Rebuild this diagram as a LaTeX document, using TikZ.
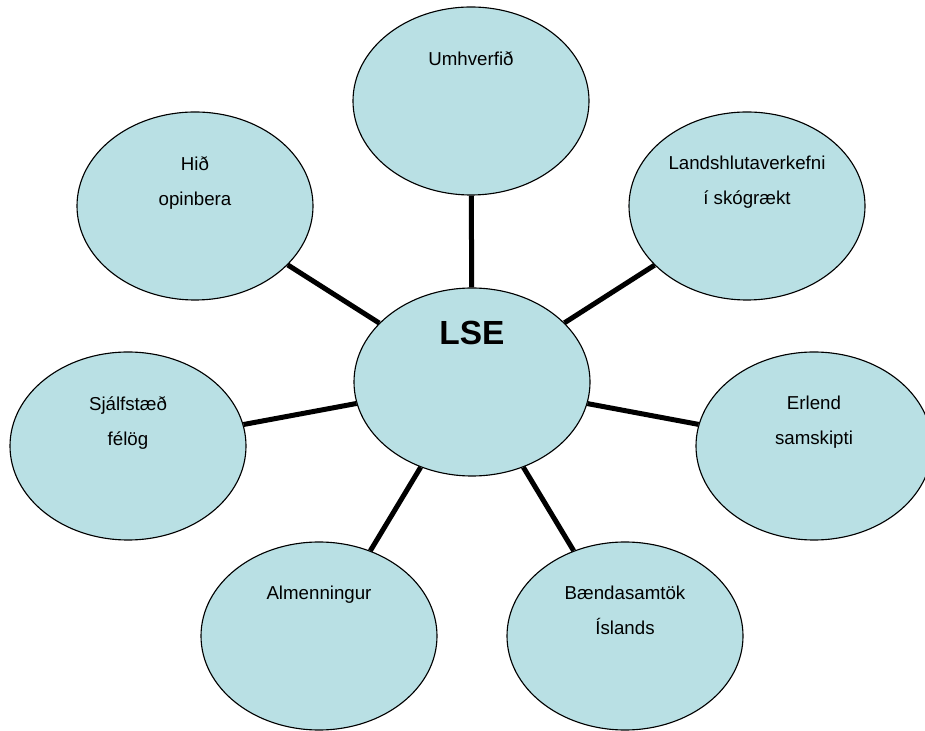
\documentclass[tikz,border=0pt]{standalone}
\usepackage{fontspec}
\setmainfont{Liberation Sans}
\usetikzlibrary{shapes.geometric,backgrounds}
\definecolor{blase}{RGB}{185,224,228}

\begin{document}
\begin{tikzpicture}[
	kreis/.style={ellipse, draw, line width=0.8pt, fill=blase, minimum width=5.9cm, minimum height=4.7cm, inner sep=0pt},
	beschr/.style={anchor=north, align=center, inner sep=0pt, font=\fontsize{13.3}{24.9}\selectfont},
	strich/.style={line width=0.125cm}]
	\useasboundingbox (0,0) rectangle (23.125,18.275); % Rand um Grafik
	
	% Kreise
	\node[kreis] (lse) at (11.8,8.725) {};
	\node[kreis] (umh) at (11.775,15.75) {};
	\node[kreis] (hid) at (4.875,13.125) {};
	\node[kreis] (land) at (18.675,13.125) {};
	\node[kreis] (sjalf) at (3.2,7.125) {};
	\node[kreis] (erl) at (20.35,7.125) {};
	\node[kreis] (alm) at (7.975,2.375) {};
	\node[kreis] (baend) at (15.625,2.375) {};
	
	% Texte
	\node[beschr, font=\bfseries\fontsize{23.8}{28}\selectfont] (lse-t) at ([yshift=1.52cm]lse.center) {LSE};
	\node[beschr] (umh-t) at ([yshift=1.25cm]umh.center) {Umhverfið};
	\node[beschr] (hid-t) at ([yshift=1.25cm]hid.center) {Hið\\opinbera};
	\node[beschr] (land-t) at ([yshift=1.25cm]land.center) {Landshlutaverkefni\\í skógrækt};
	\node[beschr] (sjalf-t) at ([yshift=1.25cm]sjalf.center) {Sjálfstæð\\félög};
	\node[beschr] (erl-t) at ([yshift=1.25cm]erl.center) {Erlend\\samskipti};
	\node[beschr] (alm-t) at ([yshift=1.25cm]alm.center) {Almenningur};
	\node[beschr] (baend-t) at ([yshift=1.25cm]baend.center) {Bændasamtök\\Íslands};
	
	\begin{scope}[on background layer] % Verbindungen
		\foreach \n in {umh,hid,land,sjalf,erl,alm,baend}
			\draw[strich] (lse) -- (\n);
	\end{scope}
\end{tikzpicture}
\end{document}
